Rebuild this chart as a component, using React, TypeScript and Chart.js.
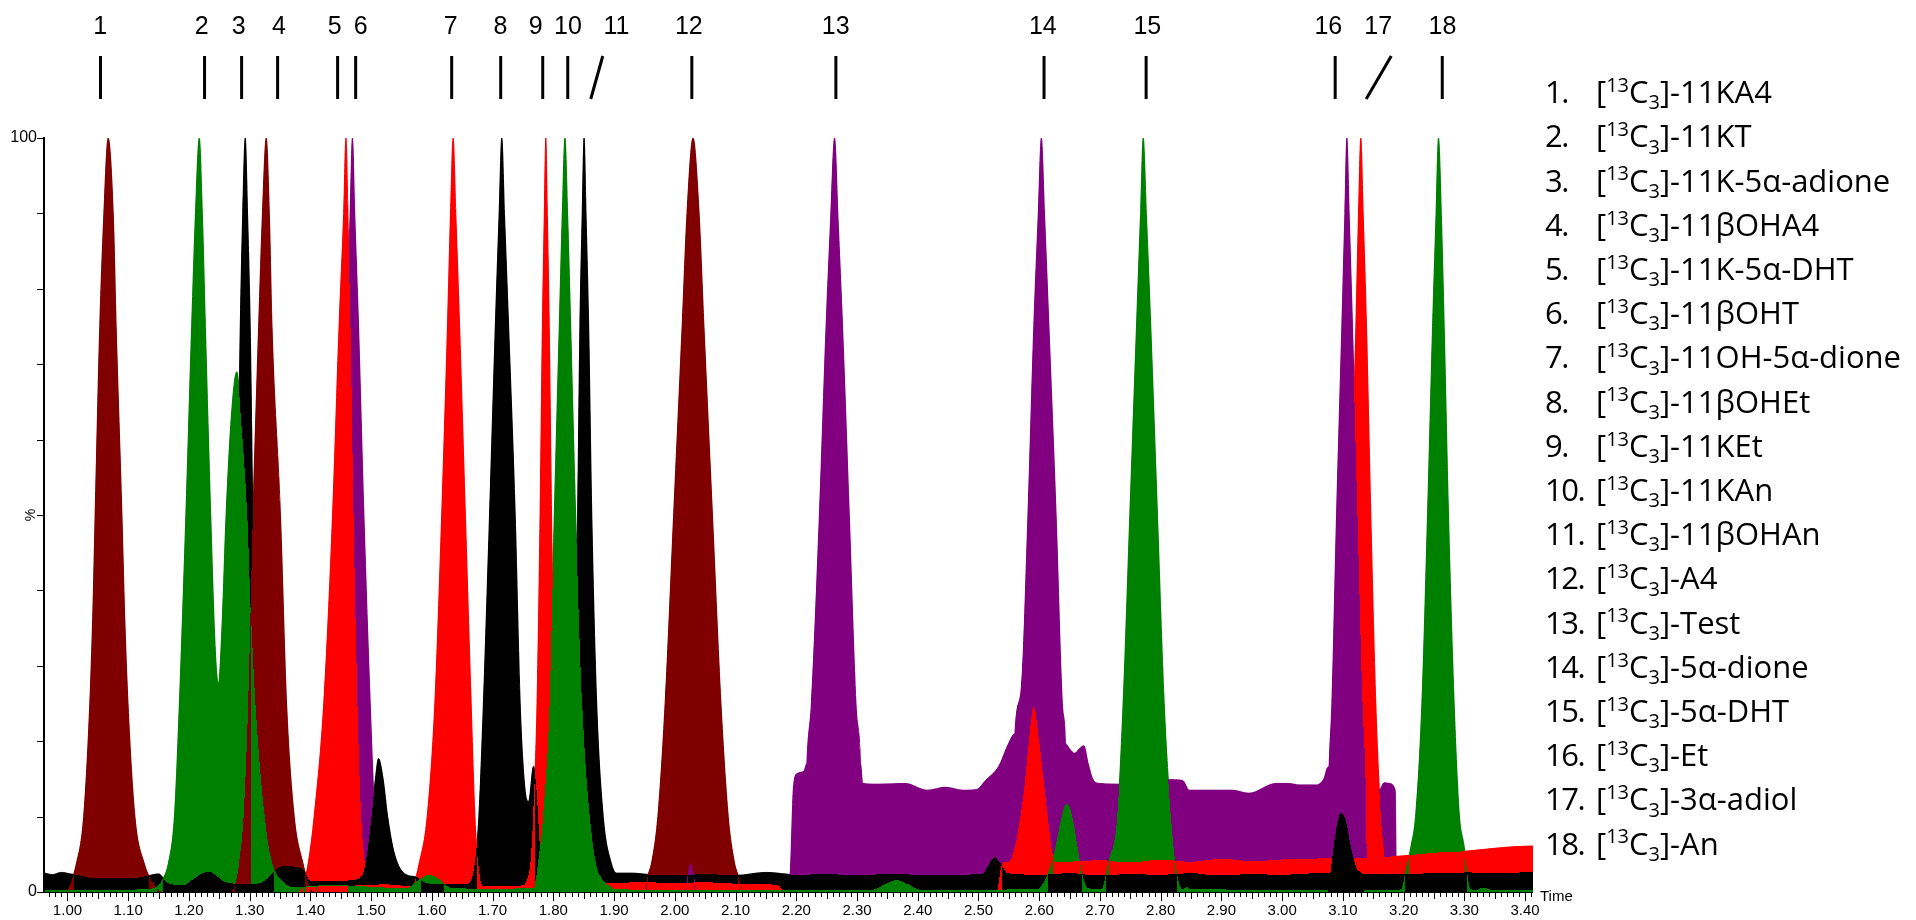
import React, { useEffect, useRef } from 'react';
import { Chart, registerables } from 'chart.js';

Chart.register(...registerables);

type Pt = [number, number];

// ---------------- axis / tick data ----------------
const X_MIN = 0.963;
const X_MAX = 3.413;
const xTickLabels = [1.0, 1.1, 1.2, 1.3, 1.4, 1.5, 1.6, 1.7, 1.8, 1.9, 2.0, 2.1, 2.2, 2.3, 2.4, 2.5, 2.6, 2.7, 2.8, 2.9, 3.0, 3.1, 3.2, 3.3, 3.4];
const yTickLabels = [0, 100];
const yTickMarks = [0, 10, 20, 30, 40, 50, 60, 70, 80, 90, 100];

// ---------------- peak annotations ----------------
const peakNumbers = ['1', '2', '3', '4', '5', '6', '7', '8', '9', '10', '11', '12', '13', '14', '15', '16', '17', '18'];
const peakLabelTimes = [1.054, 1.221, 1.282, 1.348, 1.44, 1.483, 1.631, 1.713, 1.771, 1.824, 1.904, 2.023, 2.265, 2.606, 2.778, 3.076, 3.158, 3.264];
const peakBarTopTimes = [1.0544, 1.2257, 1.2867, 1.346, 1.4448, 1.4745, 1.6326, 1.7133, 1.7825, 1.8237, 1.8814, 2.028, 2.2652, 2.6079, 2.776, 3.0873, 3.1796, 3.2636];
const peakBarBottomTimes = [1.0544, 1.2257, 1.2867, 1.346, 1.4448, 1.4745, 1.6326, 1.7133, 1.7825, 1.8237, 1.8616, 2.028, 2.2652, 2.6079, 2.776, 3.0873, 3.1384, 3.2636];
const compoundNames = ['11KA4', '11KT', '11K-5α-adione', '11βOHA4', '11K-5α-DHT', '11βOHT', '11OH-5α-dione', '11βOHEt', '11KEt', '11KAn', '11βOHAn', 'A4', 'Test', '5α-dione', '5α-DHT', 'Et', '3α-adiol', 'An'];

// ---------------- dark red trace ----------------
const darkRedPeak1: Pt[] = [[0.963, 0], [0.995, 0], [1.0153, 4], [1.0266, 10], [1.0367, 25], [1.0417, 37], [1.0455, 50], [1.0531, 75], [1.0594, 89], [1.067, 100], [1.0758, 89], [1.0802, 75], [1.0897, 50], [1.0941, 37], [1.0997, 25], [1.1111, 10], [1.1256, 4], [1.1476, 0.5], [1.158, 0]];
const darkRedPeak4: Pt[] = [[1.268, 0], [1.276, 1], [1.283, 4], [1.29, 10], [1.2975, 25], [1.3053, 50], [1.3147, 75], [1.321, 90], [1.3273, 100], [1.3324, 90], [1.3368, 75], [1.3507, 50], [1.3608, 25], [1.3734, 10], [1.3872, 4], [1.3999, 0.5], [1.41, 0]];
const darkRedPeak12: Pt[] = [[1.95, 0], [1.955, 2], [1.962, 4], [1.972, 10], [1.984, 25], [1.998, 50], [2.012, 75], [2.02, 90], [2.03, 100], [2.04, 90], [2.048, 75], [2.062, 50], [2.076, 25], [2.088, 10], [2.098, 4], [2.105, 2], [2.112, 0]];
const darkRedTail: Pt[] = [[2.2, 0], [3.413, 0]];

// ---------------- green trace ----------------
const greenBase1: Pt[] = [[0.963, 0.3], [1.1, 0.3], [1.13, 0.4]];
const greenPeak2: Pt[] = [[1.1414, 0.5], [1.155, 1.5], [1.1666, 4], [1.176, 10], [1.1842, 25], [1.1949, 50], [1.2044, 75], [1.2107, 90], [1.217, 100], [1.2221, 90], [1.2271, 75], [1.2359, 50], [1.2435, 32], [1.2485, 27.6], [1.2548, 36], [1.2611, 50], [1.2706, 64], [1.2788, 69], [1.2864, 62], [1.296, 50], [1.3021, 37], [1.3103, 24], [1.3242, 10.5], [1.3336, 5], [1.3557, 1.3], [1.381, 0.6]];
const greenBase2: Pt[] = [[1.4, 0.8], [1.45, 0.9], [1.5, 0.7], [1.5575, 0.5]];
const greenBump160: Pt[] = [[1.5764, 1.5], [1.5953, 2.3], [1.6142, 1.6], [1.63, 0.6]];
const greenBase3: Pt[] = [[1.7, 0.4], [1.76, 0.5], [1.83, 0.5], [1.9, 0.4]];
const greenPeak10: Pt[] = [[0.963, 0], [1.762, 0], [1.7687, 0.6], [1.775, 4], [1.7832, 10], [1.7939, 25], [1.8015, 50], [1.8097, 75], [1.8147, 90], [1.8191, 100], [1.8235, 90], [1.8286, 75], [1.8368, 50], [1.8475, 25], [1.8601, 10], [1.8696, 4], [1.8822, 1.5], [1.898, 0.5], [1.902, 0], [3.413, 0]];
const greenBase4: Pt[] = [[1.95, 0.3], [2.3, 0.3]];
const greenBump236: Pt[] = [[2.325, 0.3], [2.345, 1.0], [2.365, 1.6], [2.385, 1.0], [2.405, 0.3]];
const greenBase5: Pt[] = [[2.5, 0.3], [2.595, 0.4]];
const greenPeak265: Pt[] = [[2.6, 0.5], [2.612, 2], [2.624, 5], [2.633, 8.5], [2.64, 11], [2.6454, 11.7], [2.651, 11], [2.658, 8.5], [2.665, 5], [2.672, 2], [2.68, 0.5]];
const greenPeak15: Pt[] = [[2.7028, 0.4], [2.7138, 4], [2.7285, 10], [2.7381, 25], [2.7491, 50], [2.7601, 75], [2.7668, 90], [2.7712, 100], [2.7764, 90], [2.7837, 75], [2.7947, 50], [2.8058, 25], [2.8168, 10], [2.8241, 4], [2.8352, 0.4]];
const greenBase6: Pt[] = [[2.84, 0.5], [2.843, 0.7], [2.848, 0.4], [3.08, 0.3], [3.095, 0.6], [3.11, 0.6], [3.12, 0.3], [3.19, 0.3]];
const greenPeak18: Pt[] = [[3.196, 0.4], [3.2036, 3], [3.2119, 6], [3.2201, 10.5], [3.23, 25], [3.2393, 50], [3.2476, 75], [3.253, 89], [3.2574, 100], [3.2624, 89], [3.2668, 75], [3.2739, 50], [3.2832, 25], [3.2915, 10.5], [3.2997, 6], [3.3024, 4], [3.31, 0.4]];
const greenBase7: Pt[] = [[3.32, 0.3], [3.33, 0.6], [3.345, 0.3], [3.413, 0.3]];

// ---------------- black trace ----------------
const blackBase1: Pt[] = [[0.963, 2.5], [0.975, 2.3], [0.99, 2.6], [1.005, 2.4], [1.02, 2.2], [1.05, 1.8], [1.1, 1.8], [1.135, 2.2], [1.15, 2.4], [1.165, 1.2], [1.19, 0.9]];
const blackBump122: Pt[] = [[1.205, 1.6], [1.22, 2.4], [1.2328, 2.7], [1.245, 2.2], [1.255, 1.5], [1.3, 1.0], [1.325, 1.5]];
const blackPeak3: Pt[] = [[0.963, 0], [1.255, 0], [1.2611, 4], [1.2675, 10], [1.275, 25], [1.28, 50], [1.2845, 75], [1.2885, 90], [1.2927, 100], [1.2965, 90], [1.3009, 75], [1.3053, 50], [1.3116, 25], [1.321, 10], [1.3305, 4], [1.338, 0], [3.413, 0]];
const blackBase2: Pt[] = [[1.343, 3], [1.36, 3.5], [1.375, 3.3], [1.388, 3.0], [1.4, 1.5], [1.44, 1.4], [1.47, 1.6], [1.485, 2.2]];
const blackBump151: Pt[] = [[1.4932, 5], [1.5007, 10], [1.507, 15], [1.5121, 17.7], [1.5197, 15], [1.5272, 10], [1.5386, 5], [1.5575, 2.3]];
const blackBase3: Pt[] = [[1.575, 2.0], [1.59, 1.2], [1.62, 1.0], [1.65, 1.0], [1.6615, 1.2]];
const blackPeak8: Pt[] = [[1.671, 4], [1.6773, 10], [1.6848, 25], [1.6949, 50], [1.7044, 75], [1.7107, 90], [1.7151, 100], [1.7195, 90], [1.7264, 75], [1.7372, 50], [1.7454, 25], [1.7529, 14], [1.7592, 12], [1.7674, 16.7], [1.7718, 14], [1.7781, 6], [1.7844, 3], [1.7907, 2]];
const blackBase4: Pt[] = [[1.8, 1.6], [1.816, 1.6]];
const blackPeak11: Pt[] = [[1.8255, 4], [1.8299, 10], [1.8349, 25], [1.8399, 50], [1.8437, 75], [1.8475, 90], [1.8506, 100], [1.8538, 90], [1.8582, 75], [1.8633, 50], [1.8714, 25], [1.8822, 10], [1.8948, 4], [1.9042, 2.5]];
const blackBase5: Pt[] = [[1.93, 2.5], [1.96, 2.3], [2.0, 2.2], [2.05, 2.4], [2.1, 2.2], [2.15, 2.6], [2.2, 2.3], [2.25, 2.4], [2.3, 2.2], [2.35, 2.4], [2.4, 2.3], [2.45, 2.2], [2.5, 2.4], [2.508, 2.5]];
const blackBump253: Pt[] = [[2.518, 3.8], [2.5263, 4.6], [2.536, 3.8], [2.548, 2.5]];
const blackBase6: Pt[] = [[2.6, 2.3], [2.65, 2.5], [2.7, 2.2], [2.75, 2.4], [2.8, 2.3], [2.85, 2.5], [2.9, 2.2], [2.95, 2.4], [3.0, 2.3], [3.05, 2.5], [3.075, 2.6], [3.1, 2.5], [3.13, 2.4]];
const blackBump310: Pt[] = [[0.963, 0], [3.075, 0], [3.0801, 3], [3.0883, 8], [3.0966, 10.5], [3.1048, 9.5], [3.1131, 6], [3.124, 3], [3.1323, 2.3], [3.136, 0], [3.413, 0]];
const blackBase7: Pt[] = [[3.18, 2.4], [3.25, 2.5], [3.3, 2.6], [3.35, 2.5], [3.413, 2.7]];

// ---------------- red trace ----------------
const redBase1: Pt[] = [[0.963, 0], [1.38, 0], [1.3872, 0.6], [1.45, 0.8], [1.5133, 1.0]];
const redPeak5: Pt[] = [[0.963, 0], [1.38, 0], [1.3872, 0.6], [1.3967, 4], [1.4061, 10], [1.4219, 25], [1.4364, 50], [1.4471, 75], [1.4547, 90], [1.4585, 100], [1.4623, 88], [1.466, 75], [1.471, 50], [1.476, 30], [1.481, 15], [1.487, 6], [1.495, 2], [1.503, 1], [1.51, 0], [3.413, 0]];
const redBase2: Pt[] = [[1.53, 1.0], [1.56, 0.8]];
const redPeak7: Pt[] = [[1.567, 0.8], [1.5796, 4], [1.5922, 10], [1.6048, 25], [1.6161, 50], [1.6256, 75], [1.6306, 90], [1.635, 100], [1.6394, 90], [1.6457, 75], [1.6552, 50], [1.6647, 25], [1.6709, 10], [1.676, 4], [1.6836, 0.8]];
const redBase3: Pt[] = [[1.72, 0.8], [1.75, 0.9]];
const redPeak9: Pt[] = [[1.7561, 1.5], [1.7624, 4], [1.7668, 10], [1.7731, 25], [1.7781, 50], [1.7819, 75], [1.7851, 90], [1.7876, 100], [1.7901, 90], [1.7933, 75], [1.7971, 50], [1.8021, 25], [1.8065, 10], [1.8109, 4], [1.8191, 1.2]];
const redBase4: Pt[] = [[1.85, 1.0], [1.9, 1.2], [1.95, 1.3], [2.0, 1.2], [2.05, 1.3], [2.1, 1.1], [2.15, 1.0], [2.17, 0.9], [2.18, 0], [2.53, 0], [2.538, 3.5], [2.545, 4]];
const redPeak260: Pt[] = [[2.549, 4], [2.56, 6], [2.569, 10], [2.577, 15], [2.583, 20], [2.591, 24.6], [2.6, 20], [2.607, 15], [2.614, 10], [2.62, 6], [2.626, 4]];
const redBase5: Pt[] = [[2.64, 4.0], [2.7, 4.2], [2.75, 3.9], [2.8, 4.3], [2.85, 4.0], [2.9, 4.4], [2.95, 4.1], [3.0, 4.3], [3.05, 4.4], [3.08, 4.5], [3.12, 4.5], [3.16, 4.6]];
const redPeak17: Pt[] = [[0.963, 0], [3.085, 0], [3.0883, 5], [3.0966, 10], [3.1048, 25], [3.1131, 50], [3.1213, 75], [3.1257, 90], [3.1295, 100], [3.1334, 90], [3.1389, 75], [3.146, 50], [3.1542, 25], [3.1625, 10], [3.168, 5], [3.172, 0], [3.413, 0]];
const redBase6: Pt[] = [[3.2, 4.8], [3.25, 5.2], [3.3, 5.4], [3.35, 5.8], [3.38, 6.0], [3.413, 6.1]];

// ---------------- purple trace ----------------
const purplePlateau: Pt[] = [[0.963, 0], [2.18, 0], [2.1895, 2], [2.1954, 14], [2.2013, 15.7], [2.2123, 16], [2.2174, 17], [2.24, 17], [2.28, 17], [2.3057, 17], [2.3094, 14.4], [2.335, 14.3], [2.379, 14.4], [2.416, 13.5], [2.4454, 13.9], [2.4748, 13.5], [2.4969, 13.6], [2.5116, 14.8], [2.5336, 16.7], [2.5484, 19.5], [2.56, 21], [2.6, 21], [2.64, 20], [2.6587, 18.4], [2.666, 19], [2.6734, 19.4], [2.6807, 17], [2.6881, 15], [2.6991, 14.4], [2.7395, 14.3], [2.7763, 14.6], [2.8131, 14.9], [2.836, 14.8], [2.847, 13.5], [2.918, 13.5], [2.945, 13.1], [2.99, 14.4], [3.01, 14.4], [3.028, 14.2], [3.055, 14.2], [3.0691, 15.1], [3.0746, 16.5], [3.1, 17], [3.1367, 17], [3.146, 14], [3.1597, 13.5], [3.168, 14.5], [3.1762, 14.4], [3.1861, 13.5], [3.1883, 0], [3.413, 0]];
const purplePeak6: Pt[] = [[0.963, 0], [1.42, 0], [1.4219, 0], [1.4314, 4], [1.4389, 10], [1.4478, 25], [1.4547, 50], [1.4604, 75], [1.4654, 90], [1.4692, 100], [1.473, 90], [1.4793, 75], [1.4881, 50], [1.4985, 25], [1.506, 10], [1.512, 4], [1.52, 0.5], [1.525, 0], [3.413, 0]];
const purpleBump203: Pt[] = [[0.963, 0], [2.015, 0], [2.026, 3.8], [2.038, 0], [3.413, 0]];
const purplePeak13: Pt[] = [[0.963, 0], [2.212, 0], [2.2174, 17], [2.2248, 25], [2.238, 50], [2.249, 75], [2.2564, 89], [2.263, 100], [2.2689, 89], [2.2762, 75], [2.2873, 50], [2.2983, 25], [2.3057, 17], [2.31, 0]];
const purplePeak14: Pt[] = [[2.555, 0], [2.56, 21], [2.5704, 27], [2.5814, 50], [2.591, 75], [2.5984, 90], [2.6035, 100], [2.6087, 90], [2.616, 75], [2.6278, 50], [2.6381, 25], [2.643, 20], [2.647, 0]];
const purplePeak16: Pt[] = [[3.072, 0], [3.0774, 17], [3.0818, 25], [3.0895, 50], [3.0982, 75], [3.1032, 90], [3.1065, 100], [3.1103, 90], [3.1158, 75], [3.124, 50], [3.1323, 25], [3.1367, 17], [3.141, 0], [3.413, 0]];

// layer: painted bottom-to-top; inside one layer, the lowest trace of a column is painted in front
const traces = [
  { label: 'purple raised baseline', color: '#800080', layer: 0, points: purplePlateau },
  { label: 'red peak 17', color: '#FF0000', layer: 1, points: redPeak17 },
  { label: 'purple peaks 13, 14, 16', color: '#800080', layer: 2, points: [...purplePeak13, ...purplePeak14, ...purplePeak16] },
  { label: 'purple peak 6', color: '#800080', layer: 3, points: purplePeak6 },
  { label: 'red peak 5', color: '#FF0000', layer: 4, points: redPeak5 },
  { label: 'black peak 3', color: '#000000', layer: 5, points: blackPeak3 },
  { label: 'dark red', color: '#800000', layer: 6, points: [...darkRedPeak1, ...darkRedPeak4, ...darkRedPeak12, ...darkRedTail] },
  { label: 'purple minor', color: '#800080', layer: 6, points: purpleBump203 },
  { label: 'red', color: '#FF0000', layer: 6, points: [...redBase1, ...redBase2, ...redPeak7, ...redBase3, ...redPeak9, ...redBase4, ...redPeak260, ...redBase5, ...redBase6] },
  { label: 'black', color: '#000000', layer: 6, points: [...blackBase1, ...blackBump122, ...blackBase2, ...blackBump151, ...blackBase3, ...blackPeak8, ...blackBase4, ...blackPeak11, ...blackBase5, ...blackBump253, ...blackBase6, ...blackBase7] },
  { label: 'green', color: '#008000', layer: 6, points: [...greenBase1, ...greenPeak2, ...greenBase2, ...greenBump160, ...greenBase3, ...greenBase4, ...greenBump236, ...greenBase5, ...greenPeak265, ...greenPeak15, ...greenBase6, ...greenPeak18, ...greenBase7] },
  { label: 'green peak 10', color: '#008000', layer: 7, points: greenPeak10 },
  { label: 'black bump 3.10', color: '#000000', layer: 8, points: blackBump310 },
];

const overlayPlugin = {
  id: 'overlayLayers',
  afterDatasetsDraw(chart: any) {
    const { ctx, chartArea } = chart;
    const left = Math.round(chartArea.left);
    const top = Math.round(chartArea.top);
    const right = Math.round(chartArea.right);
    const bottom = Math.round(chartArea.bottom);
    const w = right - left;
    const h = bottom - top;
    if (w <= 0 || h <= 0) return;
    const off = document.createElement('canvas');
    off.width = w;
    off.height = h;
    const octx = off.getContext('2d', { willReadFrequently: true }) as CanvasRenderingContext2D | null;
    if (!octx) return;
    const yZero = chart.scales.y.getPixelForValue(0);
    const colTops: Int32Array[] = [];
    const colors: string[] = [];
    const layers: number[] = [];
    chart.data.datasets.forEach((ds: any, i: number) => {
      const meta = chart.getDatasetMeta(i);
      const line = meta.dataset as any;
      const pts = meta.data as any[];
      const tops = new Int32Array(w).fill(-1);
      colors.push(ds.backgroundColor as string);
      layers.push(ds.layer ?? 0);
      if (!line || !pts || !pts.length) {
        colTops.push(tops);
        return;
      }
      octx.setTransform(1, 0, 0, 1, 0, 0);
      octx.clearRect(0, 0, w, h);
      octx.translate(-left, -top);
      octx.beginPath();
      if (typeof line.path === 'function') {
        line.path(octx);
      } else {
        pts.forEach((p: any, k: number) => (k ? octx.lineTo(p.x, p.y) : octx.moveTo(p.x, p.y)));
      }
      octx.lineTo(pts[pts.length - 1].x, yZero);
      octx.lineTo(pts[0].x, yZero);
      octx.closePath();
      octx.fillStyle = '#000';
      octx.fill();
      const img = octx.getImageData(0, 0, w, h).data;
      for (let x = 0; x < w; x++) {
        for (let y = 0; y < h; y++) {
          if (img[(y * w + x) * 4 + 3] >= 128) {
            tops[x] = y;
            break;
          }
        }
      }
      colTops.push(tops);
    });
    const all = chart.data.datasets.map((_: any, i: number) => i);
    const layerIds = Array.from(new Set(layers)).sort((a, b) => a - b);
    const byLayer = layerIds.map((l) => all.filter((i: number) => layers[i] === l));
    ctx.save();
    for (let x = 0; x < w; x++) {
      for (const group of byLayer) {
        const idx = group.filter((i: number) => colTops[i][x] >= 0).sort((a: number, b: number) => colTops[a][x] - colTops[b][x]);
        for (const i of idx) {
          ctx.fillStyle = colors[i];
          ctx.fillRect(left + x, top + colTops[i][x], 1, h - colTops[i][x]);
        }
      }
    }
    ctx.restore();
  },
};

const LEGEND_NUM_X = 1545;
const LEGEND_TEXT_X = 1596;
const LEGEND_TOP = 92;
const LEGEND_STEP = 44.2;
const LEGEND_FONT = '"Open Sans", "Noto Sans", sans-serif';
const LEGEND_SIZE = 31;

const annotationPlugin = {
  id: 'annotations',
  afterDraw(chart: any) {
    const { ctx, chartArea } = chart;
    const xs = chart.scales.x;
    const ys = chart.scales.y;
    const y0 = ys.getPixelForValue(0);
    const y100 = ys.getPixelForValue(100);
    ctx.save();
    ctx.fillStyle = '#000';
    ctx.fillRect(chartArea.left - 2, y100 - 1, 2, y0 - y100 + 2);
    yTickMarks.forEach((v) => {
      const py = Math.round(ys.getPixelForValue(v));
      ctx.fillRect(chartArea.left - 8, py, 6, 1);
    });
    ctx.fillRect(chartArea.left - 2, Math.round(y0), chartArea.right - chartArea.left + 2, 1);
    for (let k = Math.ceil(X_MIN * 100); k <= Math.floor(X_MAX * 100); k++) {
      const px = Math.round(xs.getPixelForValue(k / 100));
      const len = k % 10 === 0 ? 8 : k % 5 === 0 ? 6 : 4;
      ctx.fillRect(px, Math.round(y0) + 1, 1, len);
    }
    ctx.font = '15px "Liberation Sans", Arial, sans-serif';
    ctx.textAlign = 'left';
    ctx.textBaseline = 'middle';
    ctx.fillText('Time', chartArea.right + 7, y0 + 5);
    ctx.save();
    ctx.translate(31, (y0 + y100) / 2);
    ctx.rotate(-Math.PI / 2);
    ctx.textAlign = 'center';
    ctx.font = '14px "Liberation Sans", Arial, sans-serif';
    ctx.fillText('%', 0, 0);
    ctx.restore();

    ctx.font = '25px "Liberation Sans Narrow", "Liberation Sans", sans-serif';
    ctx.textAlign = 'center';
    ctx.textBaseline = 'middle';
    peakNumbers.forEach((n, i) => {
      ctx.fillText(n, xs.getPixelForValue(peakLabelTimes[i]), 27);
    });
    ctx.strokeStyle = '#000';
    ctx.lineWidth = 3;
    ctx.lineCap = 'butt';
    peakNumbers.forEach((_, i) => {
      ctx.beginPath();
      ctx.moveTo(xs.getPixelForValue(peakBarTopTimes[i]), 56);
      ctx.lineTo(xs.getPixelForValue(peakBarBottomTimes[i]), 99);
      ctx.stroke();
    });

    const s = LEGEND_SIZE;
    const small = Math.round(s * 0.64);
    ctx.textAlign = 'left';
    ctx.textBaseline = 'alphabetic';
    compoundNames.forEach((name, i) => {
      const cy = LEGEND_TOP + i * LEGEND_STEP;
      const base = cy + s * 0.36;
      ctx.font = `${s}px ${LEGEND_FONT}`;
      const c2 = ctx as any;
      if ('letterSpacing' in c2) c2.letterSpacing = '-1.5px';
      ctx.fillText(`${i + 1}.`, LEGEND_NUM_X, base);
      if ('letterSpacing' in c2) c2.letterSpacing = '0px';
      let x = LEGEND_TEXT_X;
      ctx.fillText('[', x, base);
      x += ctx.measureText('[').width;
      ctx.font = `${small}px ${LEGEND_FONT}`;
      ctx.fillText('13', x, base - s * 0.36);
      x += ctx.measureText('13').width;
      ctx.font = `${s}px ${LEGEND_FONT}`;
      ctx.fillText('C', x, base);
      x += ctx.measureText('C').width;
      ctx.font = `${small}px ${LEGEND_FONT}`;
      ctx.fillText('3', x, base + s * 0.2);
      x += ctx.measureText('3').width;
      ctx.font = `${s}px ${LEGEND_FONT}`;
      ctx.fillText(`]-${name}`, x, base);
    });
    ctx.restore();
  },
};

export default function App() {
  const canvasRef = useRef<HTMLCanvasElement | null>(null);

  useEffect(() => {
    document.body.style.margin = '0';
    const canvas = canvasRef.current;
    if (!canvas) return;
    const chart = new Chart(canvas, {
      type: 'line',
      data: {
        datasets: traces.map((t) => ({
          label: t.label,
          data: t.points.map(([x, y]) => ({ x, y })),
          borderColor: t.color,
          backgroundColor: t.color,
          layer: t.layer,
          borderWidth: 1,
          fill: 'origin',
          pointRadius: 0,
          pointHoverRadius: 0,
          cubicInterpolationMode: 'monotone' as const,
        })) as any,
      },
      options: {
        responsive: false,
        animation: false,
        events: [],
        devicePixelRatio: 1,
        layout: { padding: { left: 0, top: 138, right: 383, bottom: 0 } },
        plugins: {
          legend: { display: false },
          tooltip: { enabled: false },
        },
        scales: {
          x: {
            type: 'linear',
            min: X_MIN,
            max: X_MAX,
            grid: { display: false, drawTicks: false },
            border: { display: false },
            afterBuildTicks: (scale: any) => {
              scale.ticks = xTickLabels.map((v) => ({ value: v }));
            },
            afterFit: (scale: any) => {
              scale.height = 28;
            },
            ticks: {
              autoSkip: false,
              maxRotation: 0,
              minRotation: 0,
              padding: 10,
              color: '#000',
              font: { family: '"Liberation Sans", Arial, sans-serif', size: 15 },
              callback: (v: any) => Number(v).toFixed(2),
            },
          },
          y: {
            type: 'linear',
            min: 0,
            max: 100,
            grid: { display: false, drawTicks: false },
            border: { display: false },
            afterBuildTicks: (scale: any) => {
              scale.ticks = yTickLabels.map((v) => ({ value: v }));
            },
            afterFit: (scale: any) => {
              scale.width = 45;
            },
            ticks: {
              padding: 8,
              color: '#000',
              font: { family: '"Liberation Sans", Arial, sans-serif', size: 16 },
              callback: (v: any) => String(v),
            },
          },
        },
      },
      plugins: [overlayPlugin, annotationPlugin],
    });
    return () => chart.destroy();
  }, []);

  return (
    <div style={{ position: 'fixed', left: 0, top: 0, width: 1916, height: 920, background: '#fff' }}>
      <canvas ref={canvasRef} width={1916} height={920} style={{ width: 1916, height: 920, display: 'block' }} />
    </div>
  );
}
